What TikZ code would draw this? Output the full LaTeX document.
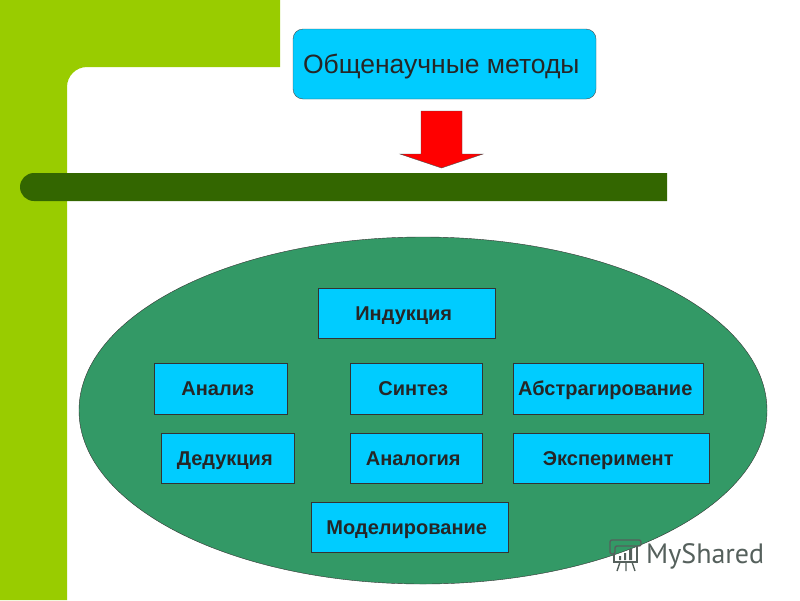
\documentclass[tikz,border=0pt]{standalone}
\usepackage{fontspec}
\setmainfont{Liberation Sans}
\newfontfamily\markfont{PT Sans}
\usetikzlibrary{positioning}
\usetikzlibrary{shapes.geometric}

\definecolor{leaf}{HTML}{99CC00}
\definecolor{bar}{HTML}{336600}
\definecolor{oval}{HTML}{339966}
\definecolor{sky}{HTML}{00CCFF}
\definecolor{markgray}{HTML}{55605C}

\tikzset{
	methodbox/.style = {draw = black!80, fill = sky, minimum height = 50pt, inner sep = 0pt,
		text height = 14pt, text depth = 0pt, execute at end node = \hspace{5.5pt},
		font = \fontsize{20}{22}\selectfont\bfseries, text = black!85},
	markline/.style = {draw = markgray, line width = 1.4pt}
}

\begin{document}
\begin{tikzpicture}[x = 1pt, y = -1pt]
	\useasboundingbox (0, 0) rectangle (800, 600);
	% background
	\fill [leaf] (0, 0) -- (280, 0) -- (280, 67) -- (87, 67) arc [start angle = 270, end angle = 180, radius = 20] -- (67, 600) -- (0, 600) -- cycle;
	\fill [bar] (34, 173) -- (667, 173) -- (667, 201) -- (34, 201) arc [start angle = 90, end angle = 270, radius = 14] -- cycle;
	% title and arrow
	\node [draw = black!70, fill = sky, rounded corners = 10pt, minimum width = 303pt, minimum height = 70pt, inner sep = 0pt] (title) at (444.5, 64) {};
	\node [right = 10pt of title.west, anchor = west, yshift = -3pt, inner sep = 0pt, font = \fontsize{26.5}{30}\selectfont, text = black!85] (titletext) {Общенаучные методы};
	\draw [black!70, fill = red] (421, 111) -- (462, 111) -- (462, 154) -- (483, 154) -- (441.5, 168) -- (400, 154) -- (421, 154) -- cycle;
	% oval
	\node [draw = black!80, fill = oval, ellipse, minimum width = 688pt, minimum height = 347pt, inner sep = 0pt] (field) at (423, 410.5) {};
	% methods
	\node [methodbox, minimum width = 177pt] (induction) at (406.5, 313) {Индукция};
	\node [methodbox, minimum width = 133pt, minimum height = 51pt] (analysis) at (220.5, 388.5) {Анализ};
	\node [methodbox, minimum width = 132pt, minimum height = 51pt] (synthesis) at (416, 388.5) {Синтез};
	\node [methodbox, minimum width = 190pt, minimum height = 51pt] (abstraction) at (608, 388.5) {Абстрагирование};
	\node [methodbox, minimum width = 133pt] (deduction) at (227.5, 458) {Дедукция};
	\node [methodbox, minimum width = 132pt] (analogy) at (416, 458) {Аналогия};
	\node [methodbox, minimum width = 196pt] (experiment) at (611, 458) {Эксперимент};
	\node [methodbox, minimum width = 197pt] (modelling) at (409.5, 527) {Моделирование};
	% watermark
	\draw [markline, rounded corners = 2pt] (610, 554) -- (610, 540) -- (641, 540) -- (641, 546) -- (615, 546) -- (615, 554) -- cycle;
	\draw [markline] (614, 554) -- (614, 562) -- (637, 562) -- (637, 546);
	\draw [markline] (620, 562) -- (617, 571) (626, 562) -- (626, 571) (632, 562) -- (635, 571);
	\fill [markgray] (619, 556) rectangle (621, 560) (624, 553) rectangle (626, 560) (629, 549) rectangle (632, 560);
	\node [anchor = west, inner sep = 0pt, font = \markfont\fontsize{28}{30}\selectfont, text = markgray] (watermark) at (646, 556) {MyShared};
\end{tikzpicture}
\end{document}
